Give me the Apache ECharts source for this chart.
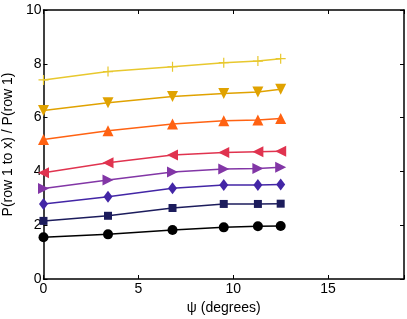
<!DOCTYPE html>
<html><head><meta charset="utf-8">
<script src="https://cdn.jsdelivr.net/npm/echarts@6/dist/echarts.min.js"></script>
<style>html,body{margin:0;padding:0;background:#fff}#c{width:407px;height:319px}</style>
</head><body><div id="c"></div>
<script>
const psi = [0, 3.4, 6.8, 9.5, 11.3, 12.5];
const s1 = [1.55, 1.66, 1.82, 1.92, 1.96, 1.97];
const s2 = [2.16, 2.35, 2.64, 2.79, 2.79, 2.80];
const s3 = [2.79, 3.06, 3.37, 3.49, 3.49, 3.51];
const s4 = [3.36, 3.68, 3.98, 4.09, 4.11, 4.15];
const s5 = [3.95, 4.32, 4.61, 4.70, 4.73, 4.75];
const s6 = [5.19, 5.51, 5.76, 5.88, 5.91, 5.97];
const s7 = [6.26, 6.55, 6.78, 6.90, 6.95, 7.05];
const s8 = [7.40, 7.71, 7.89, 8.04, 8.10, 8.19];
const seriesVals = [s1, s2, s3, s4, s5, s6, s7, s8];
const colors = ['#000000', '#1c1c5c', '#4326a6', '#8236a6', '#e0334f', '#ff6212', '#e0a200', '#e8c82e'];
const symbols = ['circle', 'rect', 'diamond', 'path://M10,5L0,0V10Z', 'path://M0,5L10,0V10Z', 'triangle', 'path://M0,0H10L5,9Z', 'path://M4.4,0H5.6V10H4.4ZM0,4.4H10V5.6H0Z'];
const sizes = [10, 8, [9, 12], 11, 11, 11, 11, 10];
const xTicks = [0, 5, 10, 15];
const yTicks = [0, 2, 4, 6, 8, 10];

const font = 'Liberation Sans, Arial, sans-serif';
const axisLine = {show: true, onZero: false, lineStyle: {color: '#000', width: 1.5}};
const tick = {show: true, inside: true, length: 4, lineStyle: {color: '#000', width: 1}};
const chart = echarts.init(document.getElementById('c'));
chart.setOption({
  animation: false,
  grid: {left: 43.5, right: 3, top: 10, bottom: 40, containLabel: false, outerBoundsMode: 'none'},
  xAxis: [{
    type: 'value', min: 0, max: 19, interval: 5, position: 'bottom',
    name: 'ψ (degrees)', nameLocation: 'middle', nameGap: 21,
    nameTextStyle: {fontFamily: font, fontSize: 14, color: '#000'},
    axisLine: axisLine, axisTick: tick,
    axisLabel: {fontFamily: font, fontSize: 14, color: '#000', margin: 3, formatter: v => xTicks.includes(v) ? String(v) : ''},
    splitLine: {show: false}
  }, {
    type: 'value', min: 0, max: 19, interval: 5, position: 'top',
    axisLine: axisLine, axisTick: tick,
    axisLabel: {show: false}, splitLine: {show: false}
  }],
  yAxis: [{
    type: 'value', min: 0, max: 10, interval: 2, position: 'left',
    name: 'P(row 1 to x) / P(row 1)', nameLocation: 'middle', nameGap: 21,
    nameTextStyle: {fontFamily: font, fontSize: 14, color: '#000'},
    axisLine: axisLine, axisTick: tick,
    axisLabel: {fontFamily: font, fontSize: 14, color: '#000', margin: 2, formatter: v => yTicks.includes(v) ? String(v) : ''},
    splitLine: {show: false}
  }, {
    type: 'value', min: 0, max: 10, interval: 2, position: 'right',
    axisLine: axisLine, axisTick: tick,
    axisLabel: {show: false}, splitLine: {show: false}
  }],
  series: seriesVals.map((vals, i) => ({
    type: 'line',
    xAxisIndex: 0, yAxisIndex: 0,
    data: psi.map((x, j) => [x, vals[j]]),
    symbol: symbols[i], symbolSize: sizes[i], showAllSymbol: true,
    lineStyle: {color: colors[i], width: 1.5},
    itemStyle: {color: colors[i], borderWidth: 0},
    clip: false, z: 3 + i
  }))
});
</script></body></html>
